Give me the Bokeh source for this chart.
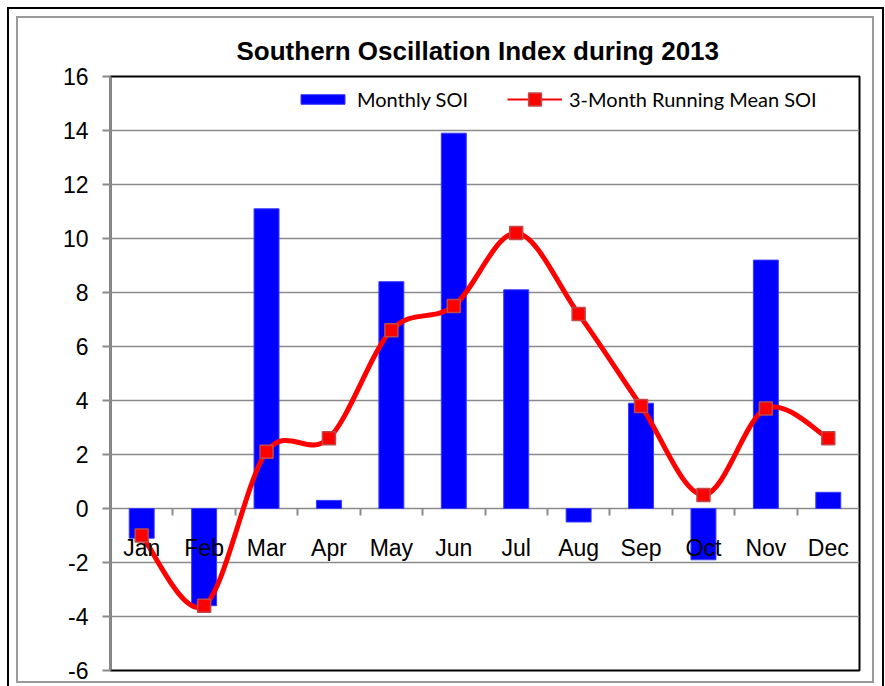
import math
import numpy as np
from bokeh.plotting import figure
from bokeh.models import (Range1d, LinearAxis, FixedTicker, Legend, LegendItem,
                          Label, ColumnDataSource)
from bokeh.embed import file_html
from bokeh.resources import INLINE

# ---- data ----
months = ["Jan", "Feb", "Mar", "Apr", "May", "Jun", "Jul", "Aug", "Sep", "Oct", "Nov", "Dec"]
monthly_soi = [-1.1, -3.6, 11.1, 0.3, 8.4, 13.9, 8.1, -0.5, 3.9, -1.9, 9.2, 0.6]
running_mean_soi = [-1.0, -3.6, 2.1, 2.6, 6.6, 7.5, 10.2, 7.2, 3.8, 0.5, 3.7, 2.6]
y_ticks = [-6, -4, -2, 0, 2, 4, 6, 8, 10, 12, 14, 16]

xpos = list(range(1, len(months) + 1))

W, H = 885, 686
p = figure(width=W, height=H, output_backend="svg", toolbar_location=None,
           x_range=Range1d(0.5, 12.5), y_range=Range1d(-6, 16),
           x_axis_type=None, min_border_left=110, min_border_right=26,
           min_border_top=76, min_border_bottom=16)
# double frame around the chart (outer black, inner grey) drawn as CSS side bands
bands = [
    "inset 7px 0 #fff", "inset 0 7px #fff", "inset -1px 0 #fff",
    "inset 9px 0 #000", "inset 0 9px #000", "inset -3px 0 #000",
    "inset 16px 0 #fff", "inset 0 16px #fff", "inset -11px 0 #fff", "inset 0 -3px #fff",
    "inset 18px 0 #9a9a9a", "inset 0 18px #9a9a9a", "inset -13px 0 #9a9a9a", "inset 0 -5px #9a9a9a",
]
p.styles = {"box-shadow": ", ".join(bands), "background-color": "white"}
p.border_fill_color = None
p.background_fill_color = "white"
p.outline_line_color = "black"
p.outline_line_width = 2

p.title.text = "Southern Oscillation Index during 2013"
p.title.text_font = "Liberation Sans"
p.title.text_font_size = "26px"
p.title.text_font_style = "bold"
p.title.text_color = "black"
p.title.align = "left"
p.title.offset = 126
p.title.standoff = 21

# y axis
ya = p.yaxis[0]
ya.ticker = FixedTicker(ticks=y_ticks)
ya.major_label_overrides = {t: str(t) for t in y_ticks}
ya.axis_line_color = "#8a8a8a"
ya.axis_line_width = 2
ya.major_tick_line_color = "#8a8a8a"
ya.major_tick_line_width = 2
ya.major_tick_out = 8
ya.major_tick_in = 0
ya.minor_tick_line_color = None
ya.major_label_text_font = "Liberation Sans"
ya.major_label_text_font_size = "23px"
ya.major_label_text_color = "black"
ya.major_label_standoff = 14

p.ygrid.grid_line_color = "#8a8a8a"
p.ygrid.grid_line_width = 1.6

# x axis crossing at zero: ticks between categories
boundaries = [i + 0.5 for i in xpos[:-1]]
xa_ticks = LinearAxis(fixed_location=0, ticker=FixedTicker(ticks=boundaries),
                      major_label_overrides={b: "" for b in boundaries},
                      axis_line_color=None, major_tick_line_color="#8a8a8a",
                      major_tick_line_width=2, major_tick_out=7, major_tick_in=0,
                      minor_tick_line_color=None, major_label_text_font_size="1px")
p.add_layout(xa_ticks, "below")
xa_labels = LinearAxis(fixed_location=0, ticker=FixedTicker(ticks=xpos),
                       major_label_overrides={i: m for i, m in zip(xpos, months)},
                       axis_line_color=None, major_tick_line_color=None,
                       minor_tick_line_color=None, major_tick_out=0, major_tick_in=0,
                       major_label_standoff=26, major_label_text_font="Liberation Sans",
                       major_label_text_font_size="23px", major_label_text_color="black")
p.add_layout(xa_labels, "below")

# bars
bars = p.vbar(x=xpos, top=monthly_soi, bottom=0, width=0.4,
              fill_color="#0000FF", line_color="#3a3aff", line_width=1)

# smoothed line (Bezier segments through the running-mean points)
n = len(xpos)
seg = dict(x0=[], y0=[], x1=[], y1=[], cx0=[], cy0=[], cx1=[], cy1=[])
for i in range(n - 1):
    xm, ym = (xpos[i - 1], running_mean_soi[i - 1]) if i > 0 else (xpos[i], running_mean_soi[i])
    xp, yp = (xpos[i + 2], running_mean_soi[i + 2]) if i + 2 < n else (xpos[i + 1], running_mean_soi[i + 1])
    xa_, ya_ = xpos[i], running_mean_soi[i]
    xb_, yb_ = xpos[i + 1], running_mean_soi[i + 1]
    seg["x0"].append(xa_); seg["y0"].append(ya_)
    seg["x1"].append(xb_); seg["y1"].append(yb_)
    seg["cx0"].append(xa_ + (xb_ - xm) / 6); seg["cy0"].append(ya_ + (yb_ - ym) / 6)
    seg["cx1"].append(xb_ - (xp - xa_) / 6); seg["cy1"].append(yb_ - (yp - ya_) / 6)
p.bezier(source=ColumnDataSource(seg), x0="x0", y0="y0", x1="x1", y1="y1",
         cx0="cx0", cy0="cy0", cx1="cx1", cy1="cy1",
         line_color="#FF0000", line_width=5, line_cap="round")

markers = p.scatter(x=xpos, y=running_mean_soi, marker="square", size=13,
                    fill_color="#FF0000", line_color="#C04848", line_width=1.5)

# legend-only line (no visible data)
legend_line = p.line(x=np.array([np.nan, np.nan]), y=np.array([np.nan, np.nan]),
                     line_color="#FF0000", line_width=2)

common = dict(orientation="horizontal", border_line_color=None, background_fill_alpha=0,
              label_height=24, label_text_font="Lato", label_text_font_size="20px",
              label_text_color="black", label_standoff=7, padding=0, margin=0)
legend1 = Legend(items=[LegendItem(label="Monthly SOI", renderers=[bars])],
                 location=(185, 559), glyph_width=55, glyph_height=12, **common)
legend2 = Legend(items=[LegendItem(label="3-Month Running Mean SOI",
                                   renderers=[legend_line, markers])],
                 location=(397, 555), glyph_width=55, glyph_height=32, **common)
p.add_layout(legend1)
p.add_layout(legend2)

p.add_layout(Label(x=-66, y=4.1, x_units="screen", y_units="data", text="SOI Values",
                   angle=math.pi / 2, text_align="center", text_baseline="middle",
                   text_font="Liberation Sans", text_font_size="22px",
                   text_font_style="bold", text_color="black"))

open("out.html", "w").write(file_html(p, INLINE))
